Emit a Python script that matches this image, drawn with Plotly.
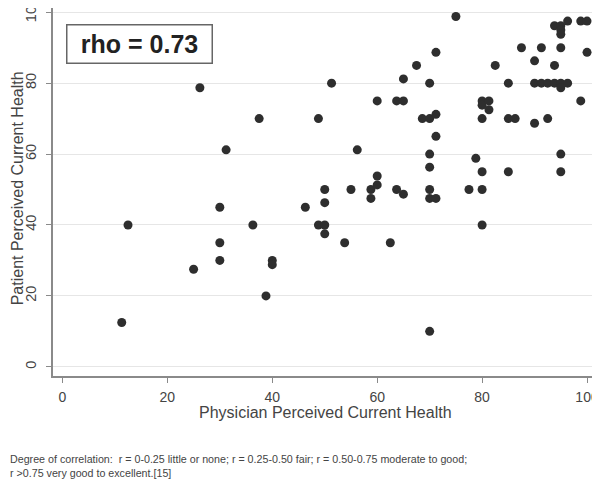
import plotly.graph_objects as go

# physician vs patient perceived current health
physician = [11.3, 12.5, 25, 26.2, 30, 30, 30, 31.2, 36.3, 37.5, 38.8, 40, 40,
             46.3, 48.8, 48.8, 50, 50, 50, 50, 51.3, 53.8, 55, 56.2, 58.8, 58.8,
             60, 60, 60, 62.5, 63.7, 63.7, 65, 65, 65, 67.5, 68.6, 70, 70, 70,
             70, 70, 70, 70, 71.2, 71.2, 71.2, 71.2, 75,
             77.5, 78.8, 80, 80, 80, 80, 80, 80, 81.3, 81.3, 82.5, 85, 85, 85,
             86.3, 87.5, 90, 90, 90, 91.3, 91.3, 92.5, 92.5, 93.8, 93.8, 93.8,
             95, 95, 95, 95, 95, 95, 95, 95, 96.3, 96.3, 98.8, 98.8, 100, 100]
patient = [12.5, 40, 27.5, 78.7, 45, 35, 30, 61.2, 40, 70, 20, 30, 28.8,
           45, 70, 40, 50, 46.3, 40, 37.5, 80, 35, 50, 61.2, 50, 47.5,
           75, 53.8, 51.3, 35, 75, 50, 75, 81.2, 48.7, 85, 70, 80, 70, 60,
           56.3, 50, 47.5, 10, 88.7, 71.2, 65, 47.5, 98.8,
           50, 58.8, 75, 73.8, 70, 55, 50, 40, 75, 72.5, 85, 80, 70, 55,
           70, 90, 86.3, 80, 68.7, 90, 80, 80, 70, 96.2, 85, 80,
           96.2, 95, 93.8, 90, 80, 78.7, 60, 55, 97.5, 80, 97.5, 75, 97.5, 88.7]

x_ticks = [0, 20, 40, 60, 80, 100]
y_ticks = [0, 20, 40, 60, 80, 100]

font = "Liberation Sans, Arial, sans-serif"

fig = go.Figure()
fig.add_trace(go.Scatter(x=physician, y=patient, mode="markers",
                         marker=dict(size=9, color="#2e2e2e"),
                         showlegend=False))

# the page body adds an 8px offset, so the figure is sized 8px smaller
fig.update_layout(
    width=592, height=473,
    paper_bgcolor="white", plot_bgcolor="white",
    margin=dict(l=45, r=3, t=0, b=105),
    font=dict(family=font, color="#444444"),
    xaxis=dict(range=[-1.8, 101.9], tickvals=x_ticks, showgrid=False,
               zeroline=False, showline=True, linecolor="#8a8a8a", linewidth=2,
               ticks="outside", ticklen=5, tickcolor="#8a8a8a",
               tickfont=dict(size=14), automargin=False,
               ticklabelstandoff=2, ticklabeloverflow="allow"),
    yaxis=dict(range=[-2.6, 101.2], tickvals=y_ticks, showgrid=True,
               gridcolor="#e6e6e6", gridwidth=1,
               zeroline=False, showline=True, linecolor="#8a8a8a", linewidth=2,
               ticks="outside", ticklen=5, tickcolor="#8a8a8a",
               tickangle=-90, tickfont=dict(size=14.5), automargin=False,
               ticklabelstandoff=4, ticklabeloverflow="allow"),
)

# faint right border of the plot region
fig.add_shape(type="line", xref="paper", yref="paper", x0=1, x1=1, y0=0, y1=1,
              line=dict(color="#eeeeee", width=1))

fig.add_annotation(xref="paper", yref="paper", x=0.5, y=(368 - 404) / 368,
                   yanchor="middle", showarrow=False,
                   text="Physician Perceived Current Health",
                   font=dict(size=16, color="#444444"))

fig.add_annotation(xref="paper", yref="paper", x=(9 - 45) / 544, y=0.51,
                   xanchor="center", yanchor="middle", textangle=-90,
                   showarrow=False, text="Patient Perceived Current Health",
                   font=dict(size=16, color="#444444"))

fig.add_annotation(xref="paper", yref="paper", x=86 / 544, y=332 / 368,
                   xanchor="center", yanchor="middle",
                   text="<b>rho = 0.73</b>",
                   showarrow=False, font=dict(size=25, color="#222222"),
                   bordercolor="#666666", borderwidth=1.5, borderpad=5,
                   bgcolor="white", width=134, height=27)

fig.add_annotation(xref="paper", yref="paper", x=-45 / 544, y=(368 - 443) / 368,
                   xanchor="left", yanchor="top", align="left", showarrow=False,
                   text="Degree of correlation:  r = 0-0.25 little or none; "
                        "r = 0.25-0.50 fair; r = 0.50-0.75 moderate to good;"
                        "<br>r >0.75 very good to excellent.[15]",
                   font=dict(size=10.7, color="#444444"))

fig.write_html("out.html")
